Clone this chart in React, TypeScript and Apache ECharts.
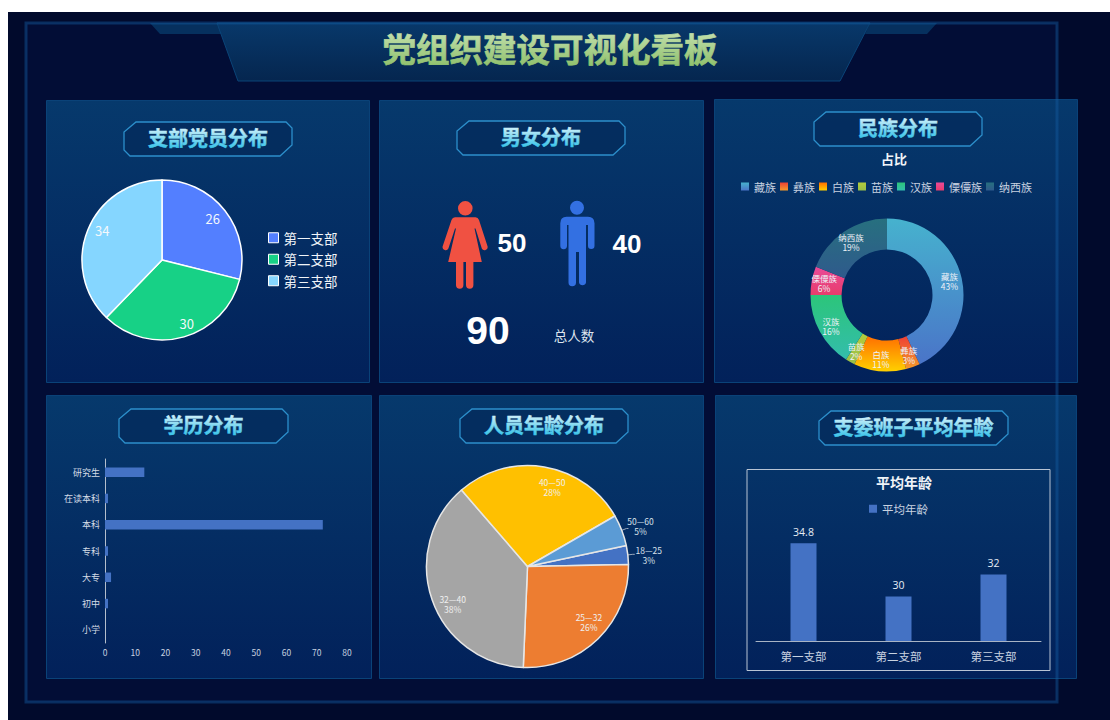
import React, { useEffect, useRef } from "react";
import * as echarts from "echarts";

const FONT = "'Noto Sans CJK SC','Noto Sans',sans-serif";

const pageTitle = "党组织建设可视化看板";
const branchNames = ["第一支部", "第二支部", "第三支部"];
const branchMembers = [26, 30, 34];
const branchColors = ["#537FFF", "#17D186", "#85D6FF"];

const womanCount = 50;
const manCount = 40;
const totalCount = 90;
const totalLabel = "总人数";

const ethnicNames = ["藏族", "彝族", "白族", "苗族", "汉族", "傈僳族", "纳西族"];
const ethnicShares = [43, 3, 11, 2, 16, 6, 19];
const ethnicGradients = [
  ["#46B2CE", "#4A74C8"],
  ["#EE4035", "#F59A2A"],
  ["#FF6E00", "#FFD000"],
  ["#B4CC3C", "#98BE48"],
  ["#2CC57A", "#33BDAC"],
  ["#EA4A98", "#E83C6C"],
  ["#27707F", "#2F5A8C"],
];

const eduNames = ["研究生", "在读本科", "本科", "专科", "大专", "初中", "小学"];
const eduCounts = [13, 1, 72, 1, 2, 1, 0];

const ageNames = ["18—25", "25—32", "32—40", "40—50", "50—60"];
const ageShares = [3, 26, 38, 28, 5];
const ageColors = ["#4472C4", "#ED7D31", "#A5A5A5", "#FFC000", "#5B9BD5"];

const avgAgeName = "平均年龄";
const avgAges = [34.8, 30, 32];

const panelTitles = [
  { text: "支部党员分布", x0: 124, x1: 292, y0: 122 },
  { text: "男女分布", x0: 457, x1: 625, y0: 121 },
  { text: "民族分布", x0: 814, x1: 982, y0: 112 },
  { text: "学历分布", x0: 119, x1: 288, y0: 409 },
  { text: "人员年龄分布", x0: 460, x1: 628, y0: 409 },
  { text: "支委班子平均年龄", x0: 819, x1: 1008, y0: 411 },
];
const panels = [
  [46.5, 100.5, 323, 282],
  [379.5, 100.5, 324, 282],
  [714.5, 99.5, 363, 283],
  [46.5, 395.5, 325, 283],
  [379.5, 395.5, 324, 283],
  [715.5, 395.5, 361, 283],
];

const WOMAN =
  "M472.6 208.3a7.3 7.3 0 1 0 -14.6 0a7.3 7.3 0 1 0 14.6 0z" +
  "M455 217.3H475.5Q478 217.3 479 220L487.6 246.5A3.1 3.1 0 0 1 481.8 248.5L475.5 228.5L474.5 228.5L481.8 262H473.4V285A3.6 3.6 0 0 1 466 285V262H463.4V285A3.6 3.6 0 0 1 456 285V262H448.2L456 228.5L455 228.5L448.4 248.5A3.1 3.1 0 0 1 442.6 246.5L451.5 220Q452.5 217.3 455 217.3Z";
const MAN =
  "M584 207.7a7 7 0 1 0 -14 0a7 7 0 1 0 14 0z" +
  "M566.5 216.7H588Q594.5 216.7 594.5 223.2V245.8A3.2 3.2 0 0 1 588 245.8V225H586V282.5A3.6 3.6 0 0 1 579 282.5V252H576V282.5A3.6 3.6 0 0 1 568.5 282.5V225H567V245.8A3.2 3.2 0 0 1 560.3 245.8V223.2Q560.3 216.7 566.5 216.7Z";

echarts.graphic.registerShape("womanIcon", echarts.graphic.extendPath(WOMAN, {}));
echarts.graphic.registerShape("manIcon", echarts.graphic.extendPath(MAN, {}));

const vGrad = (a: string, b: string) => ({
  type: "linear", x: 0, y: 0, x2: 0, y2: 1,
  colorStops: [{ offset: 0, color: a }, { offset: 1, color: b }],
});

// push labels from the middle of the radius out towards the rim, then nudge
const pushOut = (cx: number, cy: number, k: number, nudge: number[][]) => (p: any) => {
  const lx = p.labelRect.x + p.labelRect.width / 2;
  const ly = p.labelRect.y + p.labelRect.height / 2;
  const n = nudge[p.dataIndex] || [0, 0];
  return { dx: (lx - cx) * k + n[0], dy: (ly - cy) * k + n[1] };
};

function buildGraphics() {
  const els: any[] = [];
  els.push({ type: "rect", z: -10, shape: { x: 8, y: 12, width: 1102, height: 708 }, style: { fill: "#010A2C" } });
  els.push({ type: "rect", z: -9, shape: { x: 26, y: 23, width: 1031, height: 679 }, style: { fill: "#020D36" } });
  els.push({ type: "polygon", z: -8, shape: { points: [[150, 23], [217, 23], [222, 34], [160, 34]] }, style: { fill: "#06305E" } });
  els.push({ type: "polygon", z: -8, shape: { points: [[870, 23], [937, 23], [927, 34], [865, 34]] }, style: { fill: "#06305E" } });
  els.push({
    type: "polygon", z: -7,
    shape: { points: [[217, 23], [870, 23], [840, 81], [238, 81]] },
    style: { fill: vGrad("#08386A", "#05264F"), stroke: "#0A4478", lineWidth: 1 },
  });
  panels.forEach(([x, y, w, h]) => {
    els.push({
      type: "rect", z: -6, shape: { x, y, width: w, height: h },
      style: { fill: vGrad("#06396C", "#02215A"), stroke: "#0A4278", lineWidth: 1 },
    });
  });
  panelTitles.forEach(({ text, x0, x1, y0 }) => {
    const y1 = y0 + 34;
    els.push({
      type: "polygon", z: -5,
      shape: { points: [[x0 + 12, y0], [x1 - 6, y0], [x1, y0 + 6], [x1, y0 + 23], [x1 - 12, y1], [x0 + 6, y1], [x0, y0 + 28], [x0, y0 + 10]] },
      style: { fill: "rgba(3,38,86,0.55)", stroke: "#2C8FCB", lineWidth: 1.3 },
    });
    els.push({
      type: "text", z: 5, x: (x0 + x1) / 2, y: y0 + 15,
      style: { text, fill: "#9FE4F8", font: `bold 20px ${FONT}`, textAlign: "center", textVerticalAlign: "middle" },
    });
  });
  els.push({
    type: "text", z: 5, x: 550, y: 47,
    style: { text: pageTitle, fill: "#B4D98E", font: `bold 33.5px ${FONT}`, textAlign: "center", textVerticalAlign: "middle" },
  });
  els.push({ type: "womanIcon", z: 5, x: 0, y: 0, style: { fill: "#F05142" } });
  els.push({ type: "manIcon", z: 5, x: 0, y: 0, style: { fill: "#3370E2" } });
  const big = (text: string, x: number, y: number, size: number) => ({
    type: "text", z: 5, x, y,
    style: { text, fill: "#FFFFFF", font: `bold ${size}px 'Liberation Sans',sans-serif`, textAlign: "center", textVerticalAlign: "middle" },
  });
  els.push(big(String(womanCount), 512, 243, 26));
  els.push(big(String(manCount), 627, 244, 26));
  els.push(big(String(totalCount), 488, 330, 39));
  els.push({
    type: "text", z: 5, x: 574, y: 335,
    style: { text: totalLabel, fill: "#DDE4EE", font: `13.5px ${FONT}`, textAlign: "center", textVerticalAlign: "middle" },
  });
  els.push({
    type: "rect", z: 1, shape: { x: 747, y: 469.5, width: 303, height: 201 },
    style: { fill: "transparent", stroke: "#B8C4D4", lineWidth: 1 },
  });
  // outer frame lies over the panels
  els.push({
    type: "rect", z: 50, shape: { x: 26, y: 23, width: 1031, height: 679 },
    style: { fill: "transparent", stroke: "rgba(20,92,160,0.45)", lineWidth: 3 },
  });
  return els;
}

export default function App() {
  const ref = useRef<HTMLDivElement>(null);
  useEffect(() => {
    const chart = echarts.init(ref.current!, undefined, { renderer: "svg" });
    chart.setOption({
      animation: false,
      backgroundColor: "#FFFFFF",
      textStyle: { fontFamily: FONT },
      graphic: { elements: buildGraphics() },
      title: [
        { text: "占比", left: 889, top: 147, textAlign: "center", textStyle: { color: "#F0F4F8", fontSize: 13, fontWeight: "bold", fontFamily: FONT } },
        { text: avgAgeName, left: 899, top: 470, textAlign: "center", textStyle: { color: "#F0F4F8", fontSize: 14, fontWeight: "bold", fontFamily: FONT } },
      ],
      legend: [
        {
          data: branchNames, orient: "vertical", left: 263, top: 226, icon: "rect", itemWidth: 10, itemHeight: 10, itemGap: 8,
          itemStyle: { borderColor: "#FFFFFF", borderWidth: 1 },
          textStyle: { color: "#F0F4F8", fontSize: 13.5, fontFamily: FONT },
        },
        {
          data: ethnicNames, orient: "horizontal", left: 736, top: 176, icon: "rect", itemWidth: 8, itemHeight: 8, itemGap: 4,
          textStyle: { color: "#C8D2E0", fontSize: 11, fontFamily: FONT },
        },
        {
          data: [avgAgeName], left: 864, top: 498, icon: "rect", itemWidth: 8, itemHeight: 8,
          textStyle: { color: "#C8D2E0", fontSize: 11.5, fontFamily: FONT },
        },
      ],
      grid: [
        { left: 105, top: 459, width: 242, height: 184 },
        { left: 756, top: 530, width: 285, height: 111 },
      ],
      xAxis: [
        {
          gridIndex: 0, type: "value", min: 0, max: 80, interval: 10,
          axisLine: { show: false }, axisTick: { show: false }, splitLine: { show: false },
          axisLabel: { color: "#C8D2E0", fontSize: 8.5, margin: 5 },
        },
        {
          gridIndex: 1, type: "category", data: branchNames,
          axisLine: { lineStyle: { color: "#A8B4C4" } }, axisTick: { show: false },
          axisLabel: { color: "#C8D2E0", fontSize: 11.5, margin: 9 },
        },
      ],
      yAxis: [
        {
          gridIndex: 0, type: "category", data: eduNames, inverse: true,
          axisLine: { lineStyle: { color: "#B4BECC" } }, axisTick: { show: false },
          axisLabel: { color: "#D4DCE6", fontSize: 9, margin: 5 },
        },
        {
          gridIndex: 1, type: "value", min: 26, max: 36, show: false, splitLine: { show: false },
        },
      ],
      series: [
        {
          type: "pie", name: "支部党员", center: [162, 260], radius: 80, startAngle: 90,
          data: branchNames.map((name, i) => ({ name, value: branchMembers[i], itemStyle: { color: branchColors[i] } })),
          itemStyle: { borderColor: "#FFFFFF", borderWidth: 1.5 },
          label: { show: true, position: "inside", formatter: "{c}", color: "#F4F8FC", fontSize: 13 },
          labelLayout: pushOut(162, 260, 0.5, [[0, -2], [7, 1], [0, -5]]),
          labelLine: { show: false },
        },
        {
          type: "pie", name: "占比", center: [887, 295], radius: [45.5, 76.5], startAngle: 90,
          data: ethnicNames.map((name, i) => ({
            name, value: ethnicShares[i],
            itemStyle: { color: vGrad(ethnicGradients[i][0], ethnicGradients[i][1]) },
          })),
          label: { show: true, position: "inside", formatter: "{b}\n{d}%", color: "#EEF2F8", fontSize: 8.5, lineHeight: 10 },
          labelLine: { show: false },
        },
        {
          type: "pie", name: "年龄", center: [527.5, 566.5], radius: 101, startAngle: 12,
          data: ageNames.map((name, i) => {
            const outside = i === 0 || i === 4;
            return {
              name, value: ageShares[i], itemStyle: { color: ageColors[i] },
              label: { position: outside ? "outside" : "inside", color: outside ? "#D8E0EA" : "#F0F0F0" },
              labelLine: { show: outside, length: 5, length2: 2, lineStyle: { color: "#9AA8BC" } },
            };
          }),
          itemStyle: { borderColor: "#E6E6E6", borderWidth: 1.5 },
          label: { show: true, formatter: "{b}\n{d}%", fontSize: 8.5, lineHeight: 10 },
          labelLayout: (p: any) => {
            if (p.dataIndex === 0) return { align: "center", dx: 9, dy: 1 };
            if (p.dataIndex === 4) return { align: "center", dx: 7, dy: -3 };
            return pushOut(527.5, 566.5, 0.64, [[0, 0], [0, -7], [8, 9], [10, 7]])(p);
          },
        },
        {
          type: "bar", name: "学历", xAxisIndex: 0, yAxisIndex: 0, data: eduCounts,
          barWidth: 9.5, itemStyle: { color: "#4472C4" },
        },
        {
          type: "bar", name: avgAgeName, xAxisIndex: 1, yAxisIndex: 1, data: avgAges,
          barWidth: 26, itemStyle: { color: "#4472C4" },
          label: { show: true, position: "top", color: "#E6ECF4", fontSize: 10.5, distance: 6, fontFamily: "'Open Sans',sans-serif" },
        },
      ],
    } as any);

    // ECharts texts take no gradient fill, so it is applied to the finished SVG
    const svg = ref.current!.querySelector("svg");
    if (svg) {
      const NS = "http://www.w3.org/2000/svg";
      const addGrad = (id: string, stops: [string, string][]) => {
        const g = document.createElementNS(NS, "linearGradient");
        g.setAttribute("id", id);
        g.setAttribute("x1", "0"); g.setAttribute("y1", "0");
        g.setAttribute("x2", "0"); g.setAttribute("y2", "1");
        stops.forEach(([o, c]) => {
          const s = document.createElementNS(NS, "stop");
          s.setAttribute("offset", o); s.setAttribute("stop-color", c);
          g.appendChild(s);
        });
        const defs = document.createElementNS(NS, "defs");
        defs.appendChild(g);
        svg.insertBefore(defs, svg.firstChild);
      };
      addGrad("mainTitleFill", [["0.1", "#C9E3B4"], ["0.9", "#8FC06C"]]);
      addGrad("panelTitleFill", [["0.1", "#E4F6FC"], ["0.9", "#34C2E8"]]);
      const names = panelTitles.map((t) => t.text);
      const paint = (t: Element, id: string, w: string) => {
        t.setAttribute("fill", `url(#${id})`);
        t.setAttribute("stroke", `url(#${id})`);
        t.setAttribute("stroke-width", w);
      };
      svg.querySelectorAll("text").forEach((t) => {
        const s = t.textContent || "";
        if (s === pageTitle) paint(t, "mainTitleFill", "0.7");
        else if (names.includes(s)) paint(t, "panelTitleFill", "0.5");
      });
    }
    return () => chart.dispose();
  }, []);
  return <div ref={ref} style={{ position: "fixed", left: 0, top: 0, width: 1110, height: 720 }} />;
}
